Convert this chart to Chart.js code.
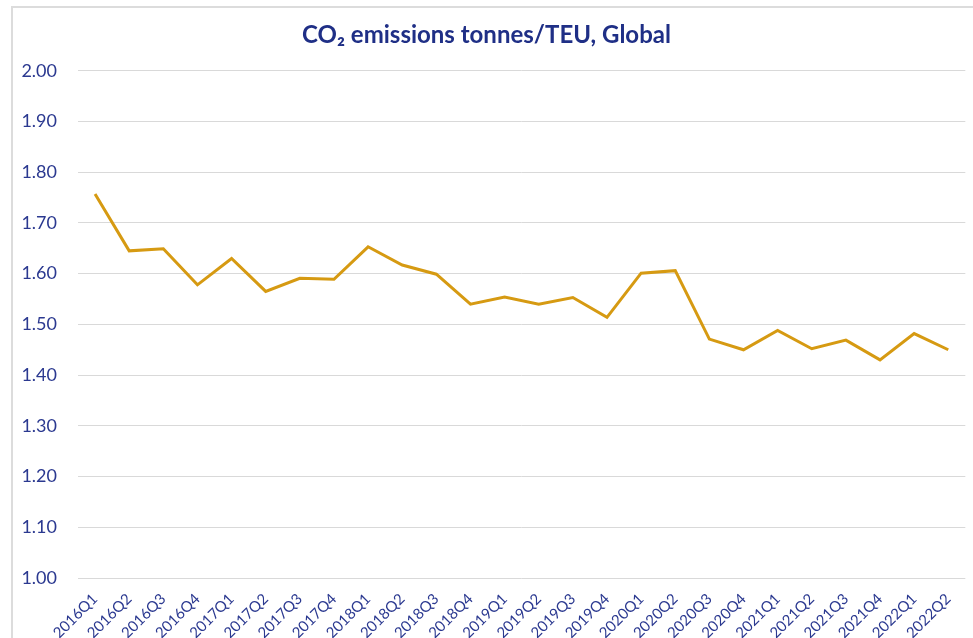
<!DOCTYPE html>
<html>
<head>
<meta charset="utf-8">
<script src="https://cdn.jsdelivr.net/npm/chart.js@4"></script>
<style>
    body { margin: 0; background: #fff; }
    #wrap { position: relative; width: 973px; height: 638px; overflow: hidden; }
    #frame { position: absolute; left: 11px; top: 6px; width: 980px; height: 650px;
             border-top: 2px solid #dcdcdc; border-left: 2px solid #dcdcdc; }
    #chart { position: absolute; left: 0; top: 0; }
</style>
</head>
<body>
<div id="wrap">
    <div id="frame"></div>
    <canvas id="chart" width="973" height="638"></canvas>
</div>
<script>
var quarters = ["2016Q1", "2016Q2", "2016Q3", "2016Q4",
                "2017Q1", "2017Q2", "2017Q3", "2017Q4",
                "2018Q1", "2018Q2", "2018Q3", "2018Q4",
                "2019Q1", "2019Q2", "2019Q3", "2019Q4",
                "2020Q1", "2020Q2", "2020Q3", "2020Q4",
                "2021Q1", "2021Q2", "2021Q3", "2021Q4",
                "2022Q1", "2022Q2"];

var co2PerTeu = [1.757, 1.645, 1.649, 1.578,
                 1.630, 1.565, 1.591, 1.589,
                 1.653, 1.617, 1.599, 1.540,
                 1.554, 1.540, 1.553, 1.514,
                 1.601, 1.606, 1.471, 1.450,
                 1.488, 1.452, 1.469, 1.430,
                 1.482, 1.450];

var yMin = 1.0;
var yMax = 2.0;
var yStep = 0.1;

var blueText = '#2B3990';

var ctx = document.getElementById("chart").getContext('2d');

var co2Chart = new Chart(ctx, {
    type: 'line',
    data: {
        labels: quarters,
        datasets: [{
            data: co2PerTeu,
            borderColor: '#D69A12',
            borderWidth: 3,
            pointRadius: 0,
            tension: 0,
            fill: false
        }]
    },
    options: {
        responsive: false,
        animation: false,
        layout: { padding: { left: 0, right: 0, top: 0, bottom: 0 } },
        plugins: {
            legend: { display: false },
            tooltip: { enabled: false },
            title: {
                display: true,
                text: 'CO₂ emissions tonnes/TEU, Global',
                color: '#1F2F86',
                font: { family: 'Lato', size: 24, weight: 'bold' },
                padding: { top: 21, bottom: 21 }
            }
        },
        scales: {
            x: {
                offset: true,
                grid: { display: false, drawTicks: false },
                border: { display: false },
                ticks: {
                    color: blueText,
                    font: { family: 'Lato', size: 15 },
                    maxRotation: 45,
                    minRotation: 45,
                    autoSkip: false,
                    padding: 12
                },
                afterFit: function (scale) { scale.height = 60; }
            },
            y: {
                min: yMin,
                max: yMax,
                grid: { color: '#d9d9d9', lineWidth: 1, drawTicks: false },
                border: { display: false },
                ticks: {
                    stepSize: yStep,
                    color: blueText,
                    font: { family: 'Lato', size: 18 },
                    padding: 21,
                    callback: function (v) { return v.toFixed(2); }
                },
                afterFit: function (scale) { scale.width = 78; }
            }
        }
    }
});
</script>
</body>
</html>
